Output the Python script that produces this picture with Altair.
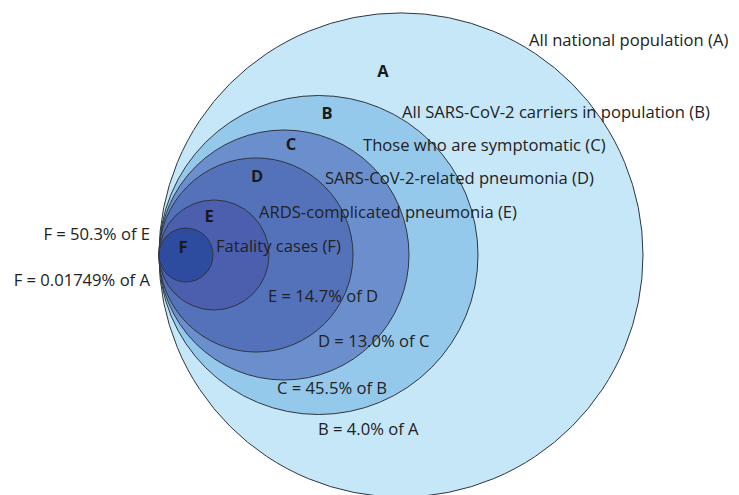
import altair as alt
import pandas as pd

# Nested circles (tangent at the left), radii in pixel-like units
circle_ids = ["A", "B", "C", "D", "E", "F"]
radii = [242, 159.5, 125, 97, 55, 27]
fills = ["#C6E7F8", "#95C9EC", "#6B8FCC", "#5472B9", "#4B5FAE", "#2D4B9F"]
tangent_x = 151   # left tangent point (data units)
tangent_y = 247

# letters inside circles
letter_text = ["A", "B", "C", "D", "E", "F"]
letter_x = [375, 319, 283, 249, 201, 175]
letter_y = [64, 106, 137, 169, 209, 240]

# descriptive labels
desc_text = [
    "All national population (A)",
    "All SARS-CoV-2 carriers in population (B)",
    "Those who are symptomatic (C)",
    "SARS-CoV-2-related pneumonia (D)",
    "ARDS-complicated pneumonia (E)",
    "Fatality cases (F)",
    "E = 14.7% of D",
    "D = 13.0% of C",
    "C = 45.5% of B",
    "B = 4.0% of A",
]
desc_x = [521, 394, 355, 317, 251, 208, 260, 310, 269, 310]
desc_y = [33, 105, 138, 171, 205, 239, 289, 334, 381, 422]

# right-aligned labels on the left
left_text = ["F = 50.3% of E", "F = 0.01749% of A"]
left_x = [142, 142]
left_y = [227, 273]

W, H = 723, 487

circles = pd.DataFrame({
    "id": circle_ids,
    "r": radii,
    "fill": fills,
    "order": list(range(len(circle_ids))),
})
circles["cx"] = tangent_x + circles["r"]
circles["cy"] = tangent_y
circles["d"] = 2 * circles["r"]

xs = alt.Scale(domain=[0, W])
ys = alt.Scale(domain=[0, H], reverse=True)

FONT = "Open Sans"
FS = 16.6

circ = alt.Chart(circles).mark_circle(
    stroke="#2f3640", strokeWidth=1, opacity=1, fillOpacity=1
).encode(
    x=alt.X("cx:Q", scale=xs, axis=None),
    y=alt.Y("cy:Q", scale=ys, axis=None),
    size=alt.Size("d:Q", scale=alt.Scale(type="pow", exponent=2, domain=[0, W], range=[0, W * W]), legend=None),
    fill=alt.Fill("fill:N", scale=None),
    order=alt.Order("order:Q"),
)

letters = alt.Chart(pd.DataFrame({"t": letter_text, "x": letter_x, "y": letter_y})).mark_text(
    font=FONT, fontSize=16.5, fontWeight="bold", color="#1a1a1a", align="center", baseline="middle"
).encode(x=alt.X("x:Q", scale=xs, axis=None), y=alt.Y("y:Q", scale=ys, axis=None), text="t:N")

descs = alt.Chart(pd.DataFrame({"t": desc_text, "x": desc_x, "y": desc_y})).mark_text(
    font=FONT, fontSize=FS, color="#222222", align="left", baseline="middle"
).encode(x=alt.X("x:Q", scale=xs, axis=None), y=alt.Y("y:Q", scale=ys, axis=None), text="t:N")

lefts = alt.Chart(pd.DataFrame({"t": left_text, "x": left_x, "y": left_y})).mark_text(
    font=FONT, fontSize=FS, color="#222222", align="right", baseline="middle"
).encode(x=alt.X("x:Q", scale=xs, axis=None), y=alt.Y("y:Q", scale=ys, axis=None), text="t:N")

chart = alt.layer(circ, letters, descs, lefts).properties(
    width=W, height=H, padding=0, autosize=alt.AutoSizeParams(type="none")
).configure_view(stroke=None)

chart.save("out.html", embed_options={"renderer": "svg", "actions": False})
